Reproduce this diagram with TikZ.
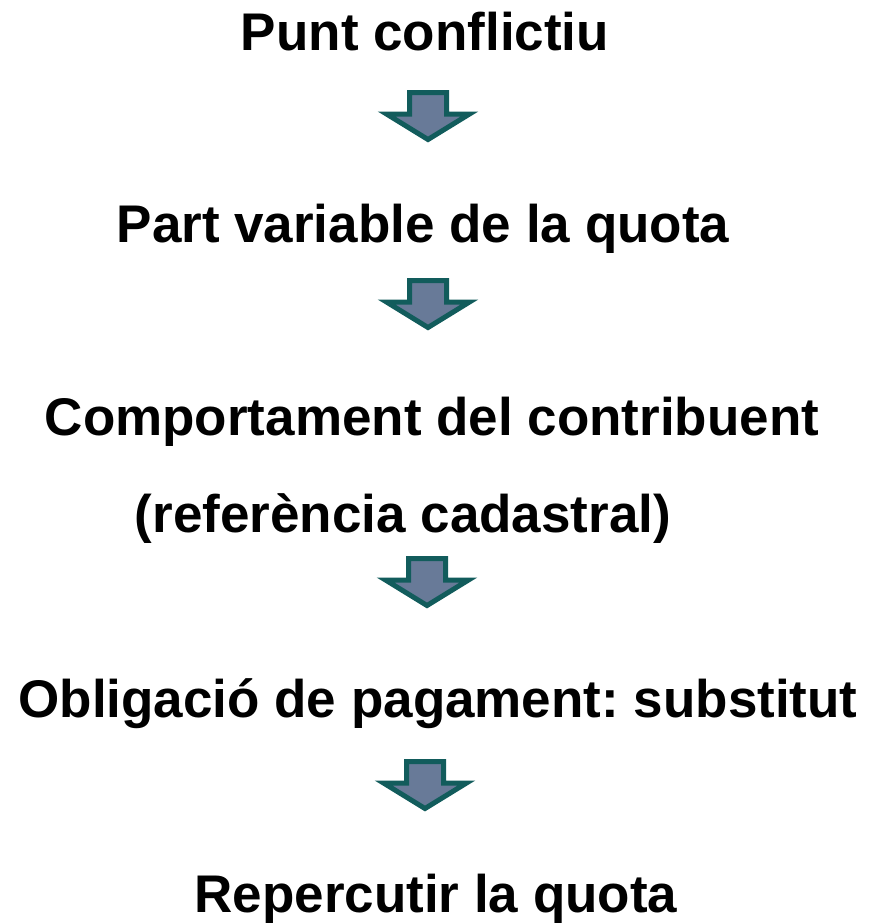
\documentclass[tikz,border=0pt]{standalone}
\usepackage{fontspec}
\setmainfont{Liberation Sans}
\frenchspacing
\definecolor{arrfill}{RGB}{104,122,152}
\definecolor{arredge}{RGB}{18,92,92}
\tikzset{
  lbl/.style={anchor=base, inner sep=0pt, font=\bfseries\fontsize{53}{60}\selectfont},
  blockarr/.pic={
    \draw[arredge, fill=arrfill, line width=5pt, line join=miter]
      (-18.5,-2.5) -- (18.5,-2.5) -- (18.5,-24) -- (41.5,-24) -- (0,-49.5) -- (-41.5,-24) -- (-18.5,-24) -- cycle;
  }
}
\begin{document}
\begin{tikzpicture}[x=1pt,y=1pt]
\useasboundingbox (0,0) rectangle (869,-924);
\node[lbl] (t1) at (425,-50) {Punt conflictiu};
\node[lbl] (t2) at (423,-242) {Part variable de la quota};
\node[lbl] (t3) at (432,-435) {Comportament del contribuent};
\node[lbl] (t4) at (403,-532) {(referència cadastral)};
\node[lbl] (t5) at (438,-717) {Obligació de pagament: substitut};
\node[lbl] (t6) at (436,-912) {Repercutir la quota};
\pic (a1) at (428,-90) {blockarr};
\pic (a2) at (428,-278) {blockarr};
\pic (a3) at (427,-556) {blockarr};
\pic (a4) at (425,-759) {blockarr};
\end{tikzpicture}
\end{document}
